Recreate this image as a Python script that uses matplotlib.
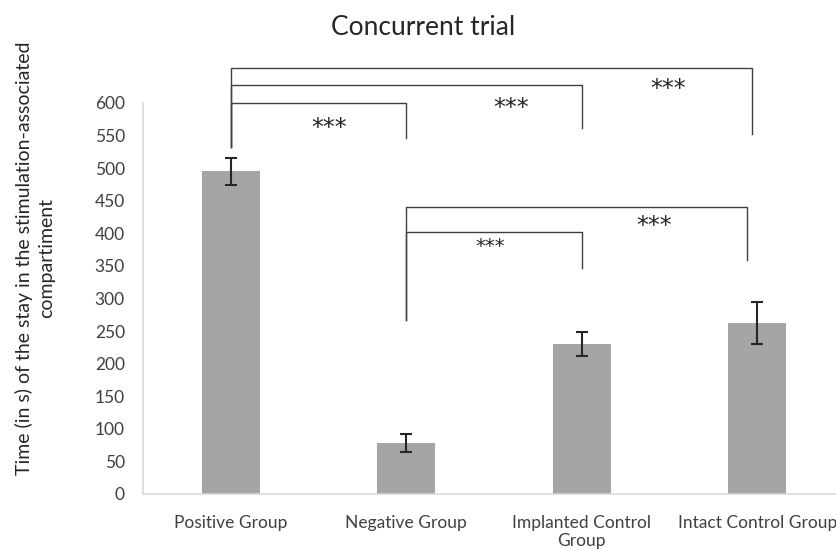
import numpy as np
import matplotlib.pyplot as plt

groups = ["Positive Group", "Negative Group", "Implanted Control\nGroup", "Intact Control Group"]
means = [495, 78, 230, 262]
errors = [21, 14, 19, 32]

# significance brackets: (left, right, bar height, left drop, right drop, star x, star y, star size)
upper = [(0, 1, 600, 532, 547, 0.56, 562, 17),
         (0, 2, 627, 532, 561, 1.60, 592, 17),
         (0, 2.97, 653, 532, 552, 2.49, 622, 17)]
lower = [(1, 2, 402, 267, 347, 1.48, 380, 14),
         (1, 2.94, 440, 267, 359, 2.41, 412, 17)]

plt.rcParams['font.family'] = ['Lato', 'DejaVu Sans']

fig = plt.figure(figsize=(8.37, 5.49), dpi=100)
ax = fig.add_axes([0.1708, 0.1002, 0.8387, 0.7122])

x = np.arange(len(groups))
ax.bar(x, means, width=0.33, color="#a5a5a5")
ax.errorbar(x, means, yerr=errors, fmt="none", ecolor="#262626", elinewidth=1.5, capsize=4, capthick=1.5)

ax.set_xlim(-0.5, 3.5)
ax.set_ylim(0, 600)
ax.set_yticks(np.arange(0, 601, 50))
ax.set_xticks(x)
ax.set_xticklabels(groups, fontsize=12.5, color="#404040", linespacing=1.15)
ax.tick_params(axis="both", length=0, colors="#404040")
ax.tick_params(axis="y", labelsize=12.5, pad=13)
ax.tick_params(axis="x", pad=15)
for s in ["top", "right"]:
    ax.spines[s].set_visible(False)
for s in ["left", "bottom"]:
    ax.spines[s].set_color("#d9d9d9")
    ax.spines[s].set_linewidth(1.2)

ax.set_ylabel("Time (in s) of the stay in the stimulation-associated\ncompartiment",
              fontsize=14, color="#262626", linespacing=1.38)
ax.yaxis.set_label_coords(-0.125, 0.604)
fig.suptitle("Concurrent trial", fontsize=19, color="#262626", y=0.972, x=0.505)

lc = "#404040"
star_font = ['DejaVu Sans']
for i, j, h, dl, dr, sx, sy, fs in upper + lower:
    ax.plot([i, i, j, j], [dl, h, h, dr], color=lc, lw=1, clip_on=False)
    ax.text(sx, sy, "***", ha="center", va="center", fontsize=fs,
            color="#262626", family=star_font)

fig.savefig("out.png", dpi=100)
